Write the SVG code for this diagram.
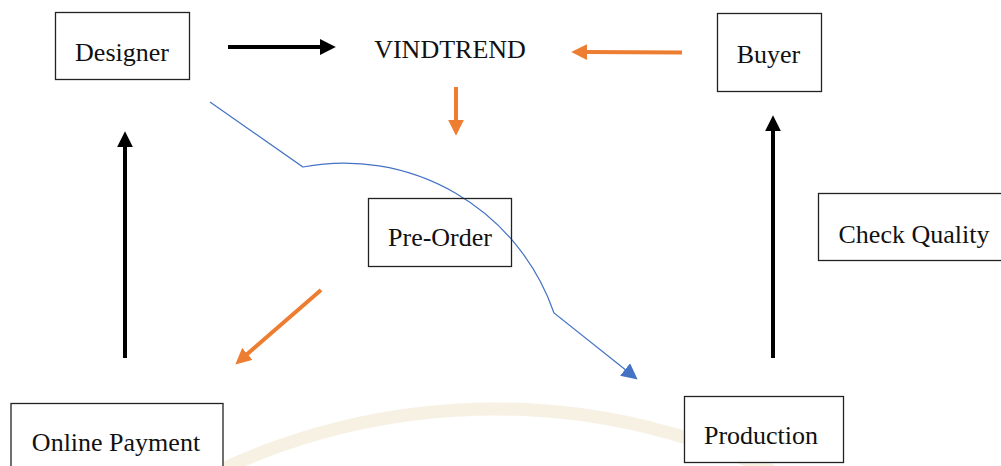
<svg xmlns="http://www.w3.org/2000/svg" width="1001" height="466" viewBox="0 0 1001 466">
<style>
.box{fill:#fff;stroke:#222;stroke-width:1.3}
.lbl{font-family:"Liberation Serif","Times New Roman",serif;font-size:26px;fill:#111;text-anchor:middle}
.blk{stroke:#000;stroke-width:4;fill:none}
.org{stroke:#ED7D31;stroke-width:4;fill:none}
.blu{stroke:#4472C4;stroke-width:1.2;fill:none}
</style>
<defs>
<marker id="hb" markerUnits="userSpaceOnUse" markerWidth="16" markerHeight="16" viewBox="0 0 15 15" refX="3" refY="7.5" orient="auto"><path d="M0,0 L15,7.5 L0,15 z" fill="#000"/></marker>
<marker id="ho" markerUnits="userSpaceOnUse" markerWidth="16" markerHeight="16" viewBox="0 0 15 15" refX="3" refY="7.5" orient="auto"><path d="M0,0 L15,7.5 L0,15 z" fill="#ED7D31"/></marker>
<marker id="hu" markerUnits="userSpaceOnUse" markerWidth="16" markerHeight="16" viewBox="0 0 15 15" refX="3" refY="7.5" orient="auto"><path d="M0,0 L15,7.5 L0,15 z" fill="#4472C4"/></marker>
</defs>
<rect width="1001" height="466" fill="#fff"/>
<g id="watermark" opacity="0.5">
<path d="M200,480 A648,648 0 0 1 790,480" fill="none" stroke="#efe3c8" stroke-width="13"/>
</g>
<g id="connectors">
<path class="blk" d="M228,47 L323,47" marker-end="url(#hb)"/>
<path class="org" d="M682,52.5 L584,52" marker-end="url(#ho)"/>
<path class="org" d="M456,87 L456,123" marker-end="url(#ho)"/>
<path class="org" d="M321,290 L245,356" marker-end="url(#ho)"/>
<path class="blk" d="M125,358 L125,144" marker-end="url(#hb)"/>
<path class="blk" d="M773,358 L773,128" marker-end="url(#hb)"/>
<path class="blu" d="M210,102 L303,167 A222,222 0 0 1 554,313 L627.6,371.5" marker-end="url(#hu)"/>
</g>
<g id="designer"><rect class="box" x="55.5" y="12.5" width="134" height="67"/><text class="lbl" x="122" y="61">Designer</text></g>
<g id="vindtrend"><text class="lbl" x="450" y="58">VINDTREND</text></g>
<g id="buyer"><rect class="box" x="717.5" y="13.5" width="104" height="78"/><text class="lbl" x="768.5" y="63">Buyer</text></g>
<g id="preorder"><rect class="box" x="368.5" y="198.5" width="143" height="68" style="fill:none"/><text class="lbl" x="440" y="246">Pre-Order</text></g>
<g id="checkquality"><rect class="box" x="818.5" y="193.5" width="190" height="67"/><text class="lbl" x="914" y="243">Check Quality</text></g>
<g id="onlinepayment"><rect class="box" x="11" y="403.5" width="212" height="70"/><text class="lbl" x="116" y="451">Online Payment</text></g>
<g id="production"><rect class="box" x="684.5" y="396.5" width="159" height="66"/><text class="lbl" x="761" y="444">Production</text></g>
</svg>
